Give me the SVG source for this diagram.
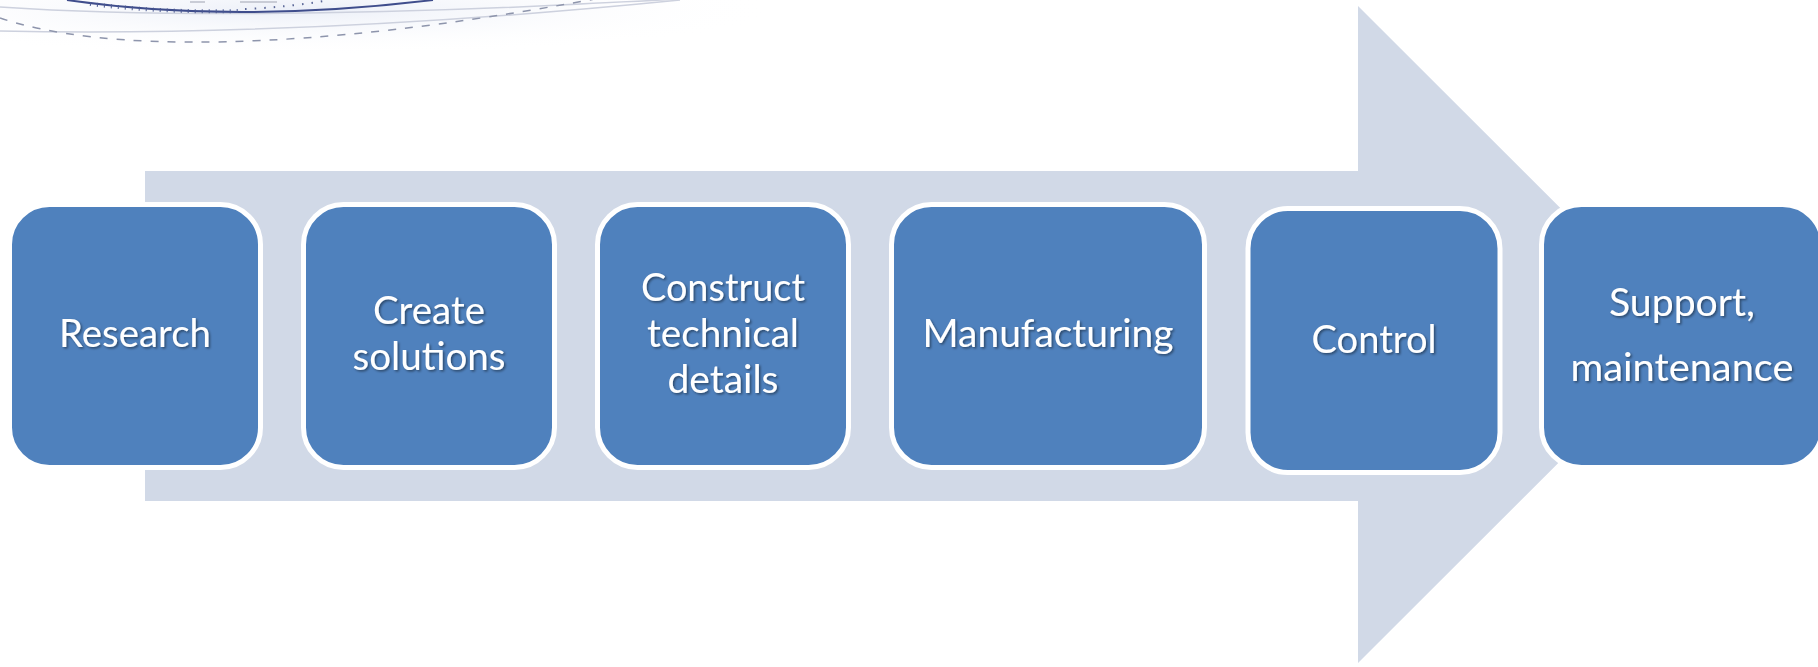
<svg xmlns="http://www.w3.org/2000/svg" width="1818" height="667" viewBox="0 0 1818 667">
<defs>
<filter id="ts" x="-10%" y="-30%" width="130%" height="170%">
<feDropShadow dx="1.5" dy="1.5" stdDeviation="1" flood-color="#000" flood-opacity="0.45"/>
</filter>
<radialGradient id="glow" cx="0.5" cy="0.5" r="0.5">
<stop offset="0" stop-color="#E9EDF7" stop-opacity="0.9"/>
<stop offset="1" stop-color="#FFFFFF" stop-opacity="0"/>
</radialGradient>
<style>
.box{fill:#4F81BD;stroke:#FFFFFF;stroke-width:5}
.lbl{font-family:Lato,"Open Sans","Liberation Sans",sans-serif;font-size:39px;fill:#FFFFFF;text-anchor:middle;filter:url(#ts)}
.thin{fill:none;stroke:#CDD1DE;stroke-width:1.5}
</style>
</defs>
<rect width="1818" height="667" fill="#FFFFFF"/>
<g id="decoration">
<ellipse cx="300" cy="10" rx="480" ry="45" fill="url(#glow)"/>
<path class="thin" d="M0,7 C150,17 360,15 560,5 S760,-4 800,-6"/>
<path class="thin" d="M0,31 C200,35 420,26 680,0"/>
<path d="M190,2 L205,2 M240,2 L277,2" stroke="#C9CCD6" stroke-width="2"/>
<path d="M67,0 Q233,24 433,0" fill="none" stroke="#3F4D8C" stroke-width="2"/>
<path d="M90,4 Q165,13 240,11" fill="none" stroke="#4A5890" stroke-width="4" stroke-dasharray="1 6"/>
<path d="M245,9 Q290,7 330,0" fill="none" stroke="#5A6696" stroke-width="2" stroke-dasharray="1.5 8"/>
<path d="M0,18 C100,52 300,54 600,-2" fill="none" stroke="#8E95AC" stroke-width="1.5" stroke-dasharray="8 9"/>
</g>
<g id="arrow">
<polygon points="145,171 1358,171 1358,6 1687,334.5 1358,663 1358,501 145,501" fill="#D1D9E7"/>
</g>
<g id="connectors"></g>
<g id="n1">
<rect class="box" x="9.5" y="204.5" width="251" height="263" rx="40"/>
<text class="lbl" x="135" y="347" textLength="152" lengthAdjust="spacingAndGlyphs">Research</text>
</g>
<g id="n2">
<rect class="box" x="303.5" y="204.5" width="251" height="263" rx="40"/>
<text class="lbl" x="429" y="324" textLength="112" lengthAdjust="spacingAndGlyphs">Create</text>
<text class="lbl" x="429" y="370" textLength="153" lengthAdjust="spacingAndGlyphs">solutions</text>
</g>
<g id="n3">
<rect class="box" x="597.5" y="204.5" width="251" height="263" rx="40"/>
<text class="lbl" x="723" y="301" textLength="164" lengthAdjust="spacingAndGlyphs">Construct</text>
<text class="lbl" x="723" y="347" textLength="152" lengthAdjust="spacingAndGlyphs">technical</text>
<text class="lbl" x="723" y="393" textLength="111" lengthAdjust="spacingAndGlyphs">details</text>
</g>
<g id="n4">
<rect class="box" x="891.5" y="204.5" width="313" height="263" rx="40"/>
<text class="lbl" x="1048" y="347" textLength="251" lengthAdjust="spacingAndGlyphs">Manufacturing</text>
</g>
<g id="n5">
<rect class="box" x="1248" y="208.5" width="252" height="264" rx="40"/>
<text class="lbl" x="1374" y="353" textLength="125" lengthAdjust="spacingAndGlyphs">Control</text>
</g>
<g id="n6">
<rect class="box" x="1541.5" y="204.5" width="281" height="263" rx="40"/>
<text class="lbl" x="1682" y="316" textLength="146" lengthAdjust="spacingAndGlyphs">Support,</text>
<text class="lbl" x="1682" y="381" textLength="223" lengthAdjust="spacingAndGlyphs">maintenance</text>
</g>
</svg>
